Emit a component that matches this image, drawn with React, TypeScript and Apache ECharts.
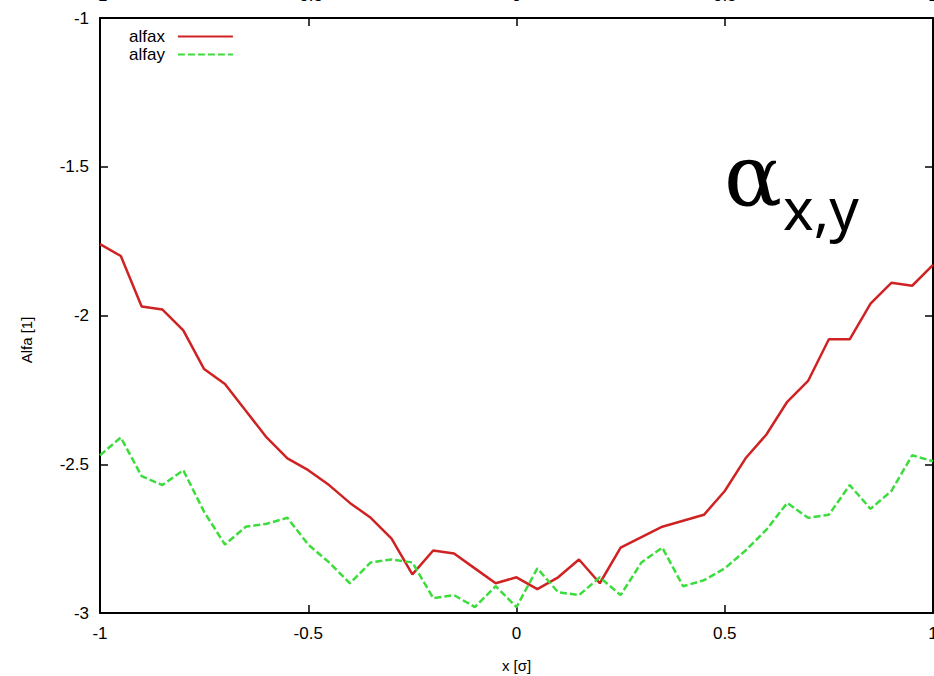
import React, { useEffect, useRef } from "react";
import * as echarts from "echarts";

// beam position across the bunch, in units of sigma
const xPos = [
  -1, -0.95, -0.9, -0.85, -0.8, -0.75, -0.7, -0.65, -0.6, -0.55, -0.5,
  -0.45, -0.4, -0.35, -0.3, -0.25, -0.2, -0.15, -0.1, -0.05, 0,
  0.05, 0.1, 0.15, 0.2, 0.25, 0.3, 0.35, 0.4, 0.45, 0.5,
  0.55, 0.6, 0.65, 0.7, 0.75, 0.8, 0.85, 0.9, 0.95, 1,
];

// Twiss alpha, horizontal plane
const alfax = [
  -1.76, -1.8, -1.97, -1.98, -2.05, -2.18, -2.23, -2.32, -2.41, -2.48, -2.52,
  -2.57, -2.63, -2.68, -2.75, -2.87, -2.79, -2.8, -2.85, -2.9, -2.88,
  -2.92, -2.88, -2.82, -2.9, -2.78, -2.745, -2.71, -2.69, -2.67, -2.59,
  -2.48, -2.4, -2.29, -2.22, -2.08, -2.08, -1.96, -1.89, -1.9, -1.83,
];

// Twiss alpha, vertical plane
const alfay = [
  -2.47, -2.41, -2.54, -2.57, -2.52, -2.66, -2.77, -2.71, -2.7, -2.68, -2.77,
  -2.83, -2.9, -2.83, -2.82, -2.83, -2.95, -2.94, -2.98, -2.91, -2.98,
  -2.85, -2.93, -2.94, -2.88, -2.94, -2.83, -2.78, -2.91, -2.89, -2.85,
  -2.79, -2.72, -2.63, -2.68, -2.67, -2.57, -2.65, -2.59, -2.47, -2.49,
];

const seriesNames = ["alfax", "alfay"];
const xTickStep = 0.5;
const yTickStep = 0.5;

const FONT = '"Liberation Sans", Arial, sans-serif';
const RED = "#cf2323";
const GREEN = "#3ddc3d";

const pairs = (ys: number[]) => xPos.map((x, i) => [x, ys[i]]);

export default function App() {
  const ref = useRef<HTMLDivElement>(null);

  useEffect(() => {
    if (!ref.current) return;
    const chart = echarts.init(ref.current, undefined, { renderer: "svg" });

    const frameLine = { show: true, onZero: false, lineStyle: { color: "#000", width: 2 } };
    const inTick = { show: true, inside: true, length: 8, lineStyle: { color: "#000", width: 1.5 } };

    chart.setOption({
      animation: false,
      backgroundColor: "#fff",
      grid: {
        left: 100,
        right: 1,
        top: 18,
        bottom: 63,
        containLabel: false,
        outerBoundsMode: "none",
      },
      legend: {
        data: seriesNames,
        orient: "vertical",
        left: 124,
        top: 23,
        align: "right",
        itemWidth: 55,
        itemHeight: 12,
        itemGap: 1,
        itemStyle: { opacity: 0 },
        textStyle: { fontFamily: FONT, fontSize: 17, color: "#000", lineHeight: 16, padding: [0, 8, 0, 0] },
      },
      xAxis: [
        {
          type: "value",
          position: "bottom",
          min: -1,
          max: 1,
          interval: xTickStep,
          name: "x [σ]",
          nameLocation: "middle",
          nameGap: 45,
          nameTextStyle: { fontFamily: FONT, fontSize: 15, color: "#000" },
          axisLine: frameLine,
          axisTick: inTick,
          splitLine: { show: false },
          axisLabel: { fontFamily: FONT, fontSize: 17, color: "#000", margin: 12 },
        },
        {
          type: "value",
          position: "top",
          min: -1,
          max: 1,
          interval: xTickStep,
          axisLine: frameLine,
          axisTick: inTick,
          splitLine: { show: false },
          axisLabel: { fontFamily: FONT, fontSize: 17, color: "#000", margin: 14 },
        },
      ],
      yAxis: [
        {
          type: "value",
          position: "left",
          min: -3,
          max: -1,
          interval: yTickStep,
          axisLine: frameLine,
          axisTick: inTick,
          splitLine: { show: false },
          axisLabel: { fontFamily: FONT, fontSize: 17, color: "#000", margin: 11 },
        },
        {
          type: "value",
          position: "right",
          min: -3,
          max: -1,
          interval: yTickStep,
          axisLine: frameLine,
          axisTick: inTick,
          splitLine: { show: false },
          axisLabel: { show: false },
        },
      ],
      graphic: [
        {
          type: "text",
          x: 26,
          y: 340,
          rotation: Math.PI / 2,
          style: {
            text: "Alfa [1]",
            font: `15px ${FONT}`,
            fill: "#000",
            align: "center",
            verticalAlign: "middle",
          },
        },
        {
          type: "text",
          x: 724,
          y: 176,
          style: {
            text: "α",
            font: '86px "DejaVu Serif", serif',
            fill: "#000",
            align: "left",
            verticalAlign: "middle",
          },
        },
        {
          type: "text",
          x: 783,
          y: 207,
          style: {
            text: "x,y",
            font: '58px "Noto Sans", sans-serif',
            fill: "#000",
            align: "left",
            verticalAlign: "middle",
          },
        },
      ],
      series: [
        {
          name: seriesNames[0],
          type: "line",
          data: pairs(alfax),
          showSymbol: false,
          symbol: "none",
          lineStyle: { color: RED, width: 2.5 },
          itemStyle: { color: RED },
        },
        {
          name: seriesNames[1],
          type: "line",
          data: pairs(alfay),
          showSymbol: false,
          symbol: "none",
          lineStyle: { color: GREEN, width: 2.5, type: [7, 3] },
          itemStyle: { color: GREEN },
        },
      ],
    });

    return () => chart.dispose();
  }, []);

  return (
    <div
      ref={ref}
      style={{ position: "absolute", left: 0, top: 0, width: 934, height: 676, background: "#fff" }}
    />
  );
}
